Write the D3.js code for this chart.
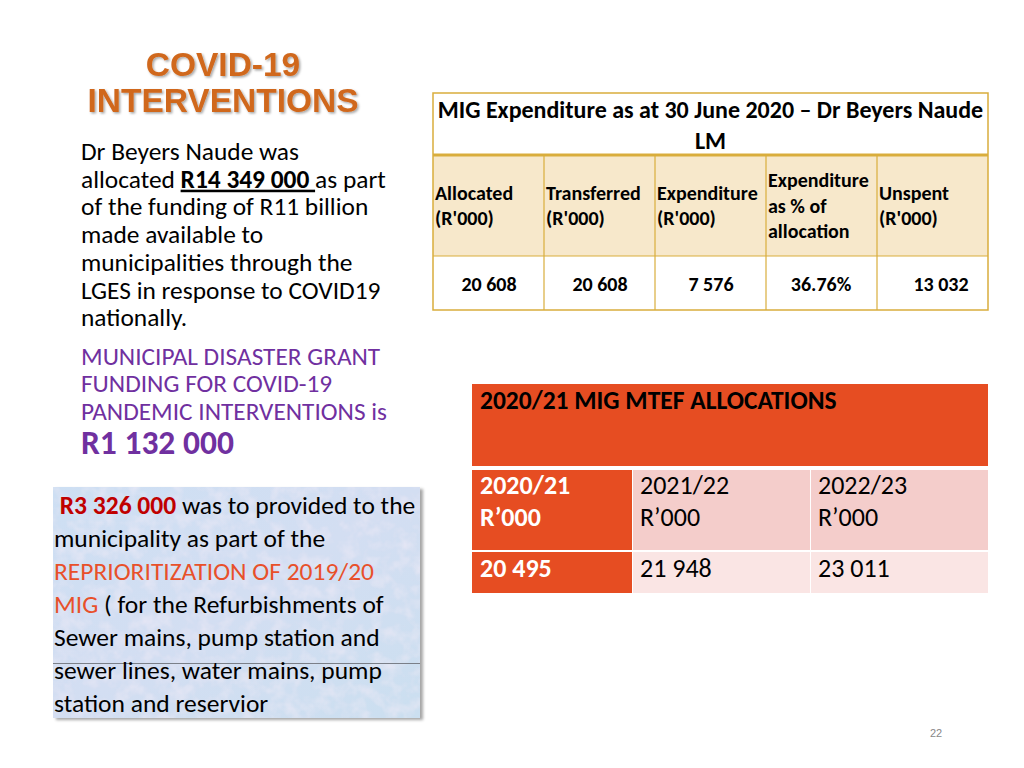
<!DOCTYPE html>
<html><head><meta charset="utf-8">
<script src="https://cdn.jsdelivr.net/npm/d3@7/dist/d3.min.js"></script>
<style>
html,body{margin:0;padding:0;background:#fff;}
svg{display:block;}
</style></head>
<body>
<svg id="s" width="1024" height="768"></svg>
<script>
// ---- data ----
const titleLines = ["COVID-19", "INTERVENTIONS"];
const introLines = [
  [["Dr Beyers Naude was", ""]],
  [["allocated ", ""], ["R14 349 000 ", "bu"], ["as part", ""]],
  [["of the funding of R11 billion", ""]],
  [["made available to", ""]],
  [["municipalities through the", ""]],
  [["LGES in response to COVID19", ""]],
  [["nationally.", ""]]
];
const grantLines = ["MUNICIPAL DISASTER GRANT", "FUNDING FOR COVID-19", "PANDEMIC INTERVENTIONS is"];
const grantAmount = "R1 132 000";
const boxLines = [
  [[" R3 326 000", "red"], [" was to provided to the", ""]],
  [["municipality as part of the", ""]],
  [["REPRIORITIZATION OF 2019/20", "orange"]],
  [["MIG", "orange"], [" ( for the Refurbishments of", ""]],
  [["Sewer mains, pump station and", ""]],
  [["sewer lines, water mains, pump", ""]],
  [["station and reservior", ""]]
];
const migTitle = ["MIG Expenditure as at 30 June 2020 \u2013 Dr Beyers Naude", "LM"];
const migHeaders = [["Allocated", "(R'000)"], ["Transferred", "(R'000)"], ["Expenditure", "(R'000)"], ["Expenditure", "as % of", "allocation"], ["Unspent", "(R'000)"]];
const migValues = ["20 608", "20 608", "7 576", "36.76%", "13 032"];
const mtefTitle = "2020/21 MIG MTEF ALLOCATIONS";
const mtefYears = [["2020/21", "R\u2019000"], ["2021/22", "R\u2019000"], ["2022/23", "R\u2019000"]];
const mtefValues = ["20 495", "21 948", "23 011"];
const pageNo = "22";

const svg = d3.select("#s");
const body = "Carlito, Lato, 'Open Sans', sans-serif";
const defs = svg.append("defs");
const f = defs.append("filter").attr("id","tsh").attr("x","-10%").attr("y","-10%").attr("width","130%").attr("height","140%");
f.append("feDropShadow").attr("dx",1.5).attr("dy",1.5).attr("stdDeviation",1).attr("flood-color","#000").attr("flood-opacity",0.35);
const f2 = defs.append("filter").attr("id","bsh").attr("x","-5%").attr("y","-5%").attr("width","115%").attr("height","115%");
f2.append("feDropShadow").attr("dx",3).attr("dy",2).attr("stdDeviation",1.5).attr("flood-color","#000").attr("flood-opacity",0.35);
// subtle paper texture
const tx = defs.append("filter").attr("id","tex").attr("x",0).attr("y",0).attr("width","100%").attr("height","100%");
tx.append("feTurbulence").attr("type","fractalNoise").attr("baseFrequency",0.07).attr("numOctaves",3).attr("seed",7).attr("result","n");
tx.append("feColorMatrix").attr("in","n").attr("type","matrix")
  .attr("values","0 0 0 0 0.90  0 0 0 0 0.84  0 0 0 0 0.93  1.1 0 0 0 -0.45").attr("result","pink");
tx.append("feComposite").attr("in","pink").attr("in2","SourceGraphic").attr("operator","in").attr("result","pk");
tx.append("feMerge").call(m=>{ m.append("feMergeNode").attr("in","SourceGraphic"); m.append("feMergeNode").attr("in","pk"); });

// ---- title ----
svg.append("g").selectAll("text").data(titleLines).join("text")
  .attr("x", 223).attr("y", (d,i)=> 76 + i*36)
  .attr("text-anchor","middle")
  .attr("font-family","'Liberation Sans', Arial, sans-serif")
  .attr("font-weight","bold").attr("font-size", 33.5)
  .attr("fill","#d0681e").attr("filter","url(#tsh)")
  .text(d=>d);

// helper for rich lines
function richLines(g, lines, x0, y0, dy, size, styles){
  g.selectAll("text").data(lines).join("text")
    .attr("x", x0).attr("y",(d,i)=> y0 + i*dy)
    .attr("font-family", body).attr("font-size", size).attr("fill","#000")
    .attr("xml:space","preserve")
    .each(function(line){
      d3.select(this).selectAll("tspan").data(line).join("tspan")
        .text(d=>d[0])
        .each(function(d){ const st = styles[d[1]]||{}; for (const k in st) d3.select(this).attr(k, st[k]); });
    });
}
const styles = {
  bu: {"font-weight":"bold","text-decoration":"underline"},
  red: {"font-weight":"bold","fill":"#c00000"},
  orange: {"fill":"#e8502a"}
};
richLines(svg.append("g"), introLines, 81, 160, 27.7, 25.4, styles);

svg.append("g").selectAll("text").data(grantLines).join("text")
  .attr("x",81).attr("y",(d,i)=>365+i*27.3)
  .attr("font-family",body).attr("font-size",25.3).attr("fill","#7030a0").text(d=>d);
svg.append("text").attr("x",81).attr("y",454).attr("font-family",body).attr("font-size",33.5)
  .attr("font-weight","bold").attr("fill","#7030a0").text(grantAmount);

// ---- blue box ----
const bx = 53, by = 487, bw = 367, bh = 231;
const pat = defs.append("linearGradient").attr("id","bg").attr("x1",0).attr("y1",0).attr("x2",1).attr("y2",1);
pat.append("stop").attr("offset",0).attr("stop-color","#cddff3");
pat.append("stop").attr("offset",0.5).attr("stop-color","#d3def2");
pat.append("stop").attr("offset",1).attr("stop-color","#cbdff0");
svg.append("rect").attr("x",bx).attr("y",by).attr("width",bw).attr("height",bh)
  .attr("fill","#000").attr("filter","url(#bsh)");
svg.append("rect").attr("x",bx).attr("y",by).attr("width",bw).attr("height",bh)
  .attr("fill","url(#bg)").attr("filter","url(#tex)");
svg.append("line").attr("x1",bx).attr("x2",bx+bw).attr("y1",663.5).attr("y2",663.5).attr("stroke","#7a7f88").attr("stroke-width",1);
richLines(svg.append("g"), boxLines, 54, 514, 33, 25.5, styles);

// ---- MIG table ----
const t1 = {x:433, y:93, w:555, h1:62, h2:101, h3:54};
const gold = "#d9ad3c";
const x1 = d3.scaleBand().domain(d3.range(migHeaders.length)).range([t1.x, t1.x+t1.w]);
const g1 = svg.append("g");
g1.append("rect").attr("x",t1.x).attr("y",t1.y).attr("width",t1.w).attr("height",t1.h1).attr("fill","#fff");
g1.append("g").selectAll("text").data(migTitle).join("text")
  .attr("x", t1.x+t1.w/2).attr("y",(d,i)=>t1.y+25+i*31).attr("text-anchor","middle")
  .attr("font-family",body).attr("font-weight","bold").attr("font-size",24).text(d=>d);
const hy = t1.y+t1.h1;
g1.append("g").selectAll("rect").data(migHeaders).join("rect")
  .attr("x",(d,i)=>x1(i)).attr("y",hy).attr("width",x1.bandwidth()).attr("height",t1.h2).attr("fill","#f7e8cb");
const hg = g1.append("g").selectAll("text").data(migHeaders).join("text")
  .attr("font-family",body).attr("font-weight","bold").attr("font-size",20);
hg.each(function(d,i){
  const n = d.length, y0 = hy + t1.h2/2 - (n-1)*25.5/2 + 7;
  d3.select(this).selectAll("tspan").data(d).join("tspan")
    .attr("x", x1(i)+2).attr("y",(s,j)=>y0+j*25.5).text(s=>s);
});
const dy = hy + t1.h2;
g1.append("rect").attr("x",t1.x).attr("y",dy).attr("width",t1.w).attr("height",t1.h3).attr("fill","#fff");
const valX = [489, 600, 711, 821, 941];
g1.append("g").selectAll("text").data(migValues).join("text")
  .attr("x",(d,i)=> x1(i) + (valX[i]-x1(i))).attr("y",dy+35).attr("text-anchor","middle")
  .attr("font-family",body).attr("font-weight","bold").attr("font-size",20).text(d=>d);
// grid
g1.append("rect").attr("x",t1.x).attr("y",t1.y).attr("width",t1.w).attr("height",t1.h1+t1.h2+t1.h3)
  .attr("fill","none").attr("stroke",gold).attr("stroke-width",1.5);
g1.append("line").attr("x1",t1.x).attr("x2",t1.x+t1.w).attr("y1",hy).attr("y2",hy).attr("stroke",gold).attr("stroke-width",3);
g1.append("line").attr("x1",t1.x).attr("x2",t1.x+t1.w).attr("y1",dy).attr("y2",dy).attr("stroke",gold).attr("stroke-width",1.2);
g1.append("g").selectAll("line").data(d3.range(1,migHeaders.length)).join("line")
  .attr("x1",i=>x1(i)).attr("x2",i=>x1(i)).attr("y1",hy).attr("y2",dy+t1.h3)
  .attr("stroke",gold).attr("stroke-width",1.2);

// ---- MTEF table ----
const t2 = {x:472, y:384, w:516};
const orange = "#e64d22";
const x2 = d3.scaleOrdinal().domain([0,1,2]).range([472, 632, 810]);
const w2 = [160, 178, 178];
const g2 = svg.append("g");
g2.append("rect").attr("x",t2.x).attr("y",t2.y).attr("width",t2.w).attr("height",82).attr("fill",orange);
g2.append("text").attr("x",480).attr("y",409).attr("font-family",body).attr("font-weight","bold")
  .attr("font-size",25.5).attr("fill","#000").text(mtefTitle);
const rowY = [470, 552], rowH = [80, 41];
const fills = [[orange,"#f4cdcb","#f4cdcb"],[orange,"#fae5e4","#fae5e4"]];
[mtefYears, mtefValues].forEach((row, r)=>{
  g2.append("g").selectAll("rect").data(row).join("rect")
    .attr("x",(d,i)=>x2(i)+(i?1:0)).attr("y",rowY[r]).attr("width",(d,i)=>w2[i]-(i?1:0)).attr("height",rowH[r])
    .attr("fill",(d,i)=>fills[r][i]);
});
g2.append("g").selectAll("text").data(mtefYears).join("text")
  .attr("font-family",body).attr("font-size",26)
  .attr("font-weight",(d,i)=>i===0?"bold":"normal").attr("fill",(d,i)=>i===0?"#fff":"#000")
  .each(function(d,i){
    d3.select(this).selectAll("tspan").data(d).join("tspan")
      .attr("x",x2(i)+8).attr("y",(s,j)=>494+j*32).text(s=>s);
  });
g2.append("g").selectAll("text").data(mtefValues).join("text")
  .attr("x",(d,i)=>x2(i)+8).attr("y",577)
  .attr("font-family",body).attr("font-size",26)
  .attr("font-weight",(d,i)=>i===0?"bold":"normal").attr("fill",(d,i)=>i===0?"#fff":"#000").text(d=>d);

// page number
svg.append("text").attr("x",936).attr("y",737).attr("text-anchor","middle")
  .attr("font-family","'Liberation Sans', Arial, sans-serif").attr("font-size",11).attr("fill","#888").text(pageNo);
</script>
</body></html>
